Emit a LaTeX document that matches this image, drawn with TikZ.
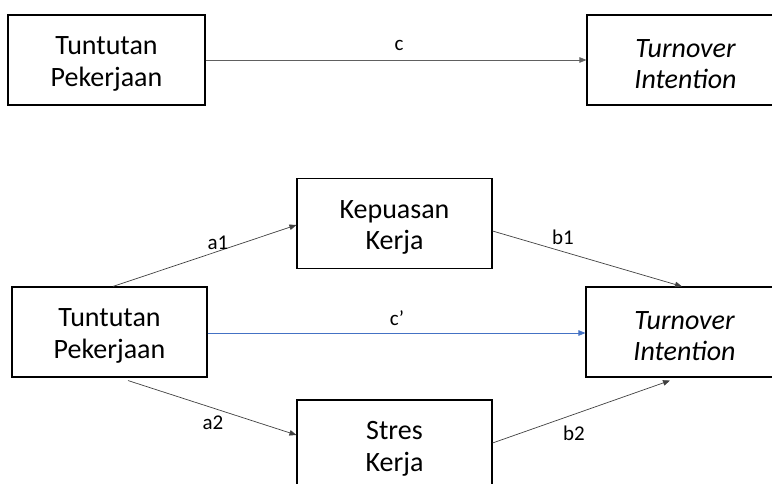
\documentclass[tikz,border=0pt]{standalone}
\usepackage{fontspec}
\setmainfont{Carlito}
\usetikzlibrary{arrows.meta}
\definecolor{lineg}{HTML}{404040}
\definecolor{topg}{HTML}{606060}
\definecolor{cblue}{HTML}{4472C4}
\newcommand{\topstrut}{\rule{0pt}{26pt}}
\tikzset{
  box/.style={draw=black, line width=1.1pt, minimum width=195pt, minimum height=90pt,
    align=center, inner sep=0pt, font=\fontsize{28pt}{31.5pt}\selectfont},
  conn/.style={draw=lineg, line width=0.7pt, -{Triangle[length=7pt,width=5.5pt]}},
  lbl/.style={anchor=base, inner sep=0pt, font=\fontsize{21pt}{25pt}\selectfont}
}
\begin{document}
\begin{tikzpicture}[x=1pt,y=-1pt]
\useasboundingbox (0,0) rectangle (772,484);
\clip (0,0) rectangle (772,484);
% top model
\node[box, minimum width=197pt] (tp1) at (106.5,60) {\topstrut Tuntutan\\Pekerjaan};
\node[box, minimum width=197pt] (ti1) at (685.5,60) {\topstrut\itshape Turnover\\\itshape Intention};
% bottom model
\node[box] (kk) at (394.5,223.5) {\topstrut Kepuasan\\Kerja};
\node[box] (tp2) at (109.5,332) {\topstrut Tuntutan\\Pekerjaan};
\node[box, minimum width=197pt] (ti2) at (684.5,332) {\topstrut\itshape Turnover\\\itshape Intention};
\node[box] (sk) at (394.5,445) {\topstrut Stres\\Kerja};
% connectors
\draw[conn, draw=topg] (tp1.east) -- (ti1.west);
\draw[conn] ([xshift=3.5pt]tp2.north) -- ([yshift=-1.5pt]kk.west);
\draw[conn, draw=cblue, -{Triangle[length=7pt,width=5.5pt,fill=cblue]}] ([yshift=-1pt]tp2.east) -- ([yshift=-1pt]ti2.west);
\draw[conn] ([xshift=18.5pt,yshift=-3pt]tp2.south) -- ([yshift=10pt]sk.west);
\draw[conn] ([yshift=-7.5pt]kk.east) -- ([xshift=-2.5pt]ti2.north);
\draw[conn] ([yshift=2pt]sk.east) -- ([xshift=-14.5pt,yshift=-3pt]ti2.south);
% labels
\node[lbl] (lc) at (399,51) {c};
\node[lbl] (lcp) at (397,325) {c’};
\node[lbl] (la1) at (218,250) {a1};
\node[lbl] (la2) at (213,429) {a2};
\node[lbl] (lb1) at (563,244) {b1};
\node[lbl] (lb2) at (574,440) {b2};
\end{tikzpicture}
\end{document}
